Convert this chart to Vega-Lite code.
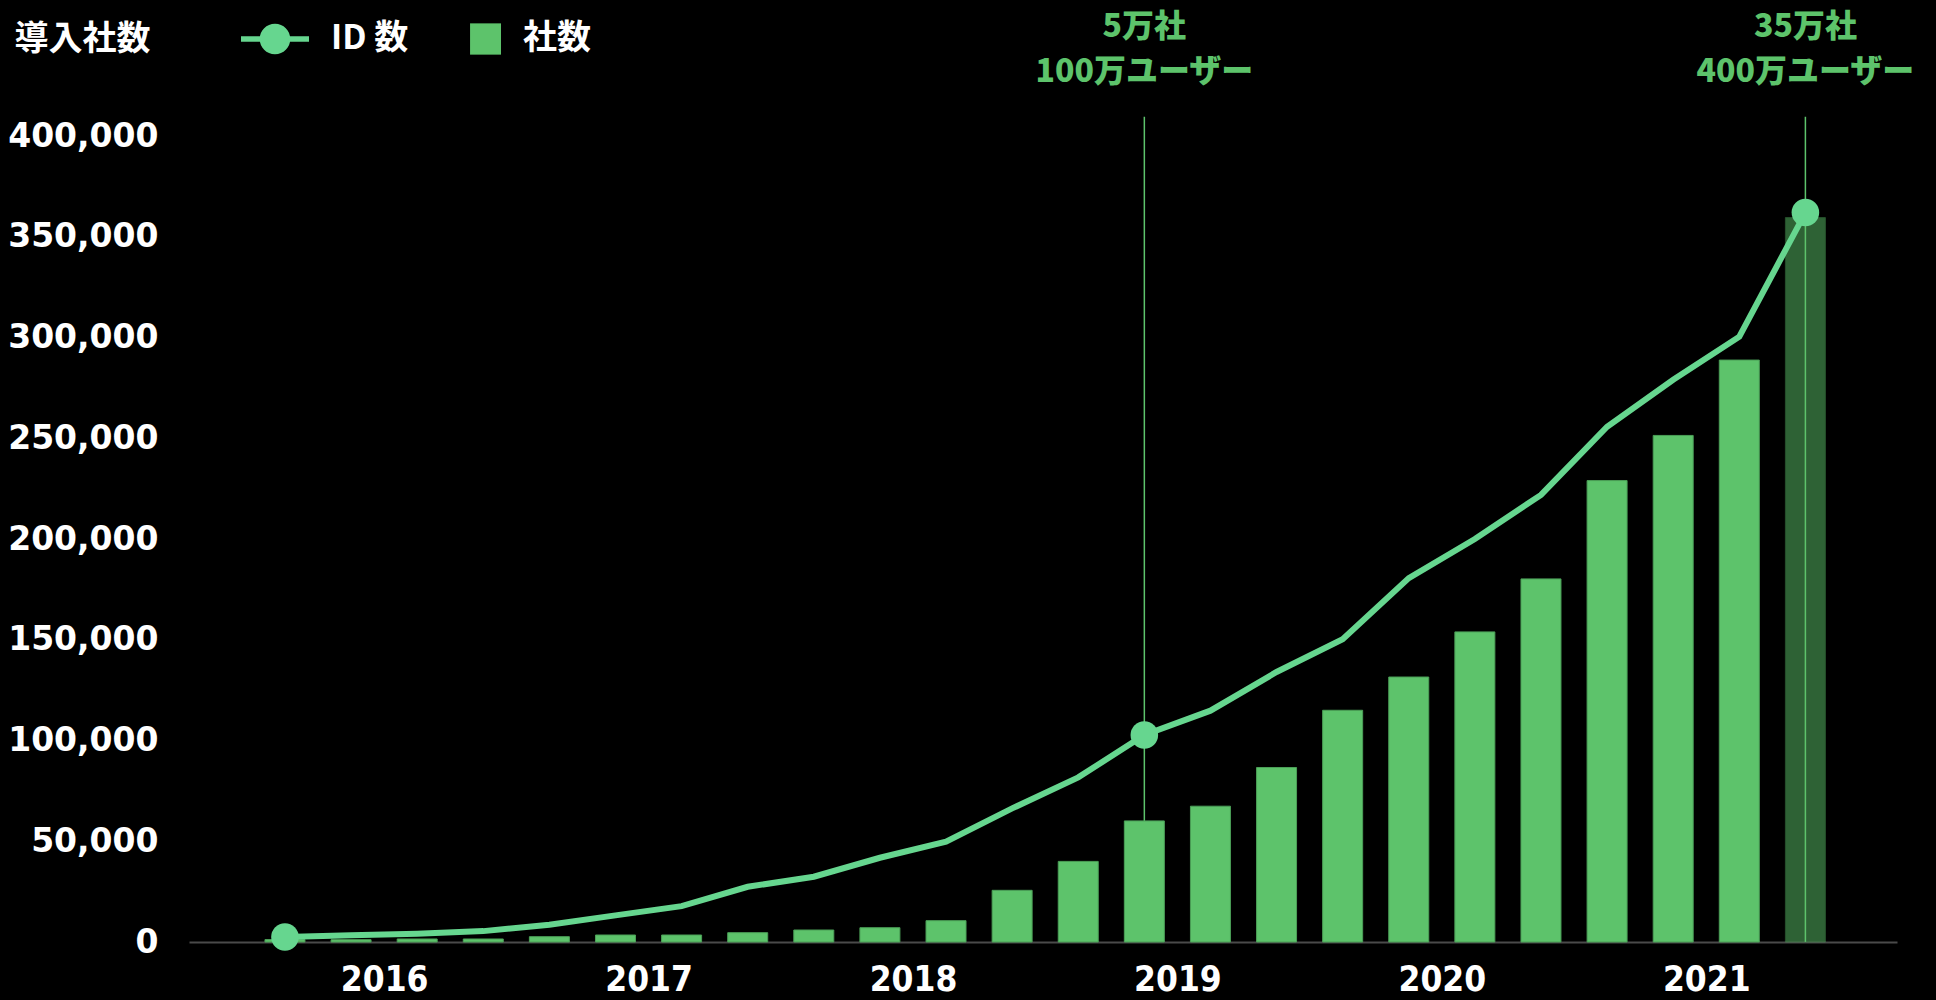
{
  "$schema": "https://vega.github.io/schema/vega-lite/v6.json",
  "width": 1708,
  "height": 806,
  "autosize": {"type": "none"},
  "padding": {"left": 189, "top": 136, "right": 39, "bottom": 58},
  "background": "#000000",
  "config": {
    "view": {"stroke": null},
    "axisY": {
      "domain": false,
      "ticks": false,
      "labelFont": "DejaVu Sans",
      "labelFontSize": 33,
      "labelFontWeight": "bold",
      "labelColor": "#ffffff",
      "labelPadding": 31,
      "gridColor": "#2b2b2b",
      "gridWidth": 1.5,
      "titleFont": "Noto Sans CJK JP",
      "titleFontSize": 34,
      "titleFontWeight": "bold",
      "titleColor": "#ffffff"
    },
    "axisX": {
      "grid": false,
      "ticks": false,
      "domainColor": "#4a4a4a",
      "domainWidth": 2,
      "labelFont": "DejaVu Sans Condensed, Roboto Condensed, Roboto",
      "labelFontSize": 35,
      "labelFontWeight": "bold",
      "labelColor": "#ffffff",
      "labelBaseline": "middle",
      "labelPadding": 37
    }
  },
  "data": {
    "values": [
      {"q": 1, "period": "2016Q1", "ids": 2500, "companies": 1200, "projected": false, "highlight": true},
      {"q": 2, "period": "2016Q2", "ids": 3300, "companies": 1150, "projected": false, "highlight": false},
      {"q": 3, "period": "2016Q3", "ids": 4100, "companies": 1500, "projected": false, "highlight": false},
      {"q": 4, "period": "2016Q4", "ids": 5400, "companies": 1500, "projected": false, "highlight": false},
      {"q": 5, "period": "2017Q1", "ids": 8600, "companies": 2650, "projected": false, "highlight": false},
      {"q": 6, "period": "2017Q2", "ids": 13200, "companies": 3470, "projected": false, "highlight": false},
      {"q": 7, "period": "2017Q3", "ids": 17800, "companies": 3470, "projected": false, "highlight": false},
      {"q": 8, "period": "2017Q4", "ids": 27400, "companies": 4630, "projected": false, "highlight": false},
      {"q": 9, "period": "2018Q1", "ids": 32400, "companies": 5950, "projected": false, "highlight": false},
      {"q": 10, "period": "2018Q2", "ids": 41800, "companies": 7100, "projected": false, "highlight": false},
      {"q": 11, "period": "2018Q3", "ids": 49800, "companies": 10600, "projected": false, "highlight": false},
      {"q": 12, "period": "2018Q4", "ids": 66300, "companies": 25650, "projected": false, "highlight": false},
      {"q": 13, "period": "2019Q1", "ids": 81700, "companies": 40000, "projected": false, "highlight": false},
      {"q": 14, "period": "2019Q2", "ids": 102700, "companies": 60100, "projected": false, "highlight": true},
      {"q": 15, "period": "2019Q3", "ids": 114800, "companies": 67400, "projected": false, "highlight": false},
      {"q": 16, "period": "2019Q4", "ids": 134000, "companies": 86600, "projected": false, "highlight": false},
      {"q": 17, "period": "2020Q1", "ids": 150300, "companies": 115000, "projected": false, "highlight": false},
      {"q": 18, "period": "2020Q2", "ids": 180600, "companies": 131500, "projected": false, "highlight": false},
      {"q": 19, "period": "2020Q3", "ids": 200000, "companies": 153900, "projected": false, "highlight": false},
      {"q": 20, "period": "2020Q4", "ids": 221900, "companies": 180200, "projected": false, "highlight": false},
      {"q": 21, "period": "2021Q1", "ids": 255700, "companies": 229000, "projected": false, "highlight": false},
      {"q": 22, "period": "2021Q2", "ids": 279000, "companies": 251400, "projected": false, "highlight": false},
      {"q": 23, "period": "2021Q3", "ids": 300400, "companies": 288800, "projected": false, "highlight": false},
      {"q": 24, "period": "2021Q4", "ids": 362000, "companies": 359500, "projected": true, "highlight": true}
    ]
  },
  "layer": [
    {
      "data": {"values": [
        {"q": 14, "label": "5万社\n100万ユーザー"},
        {"q": 24, "label": "35万社\n400万ユーザー"}
      ]},
      "mark": {"type": "rule", "color": "#5dc36b", "strokeWidth": 1.5},
      "encoding": {
        "x": {"field": "q", "type": "quantitative"},
        "y": {"datum": 0, "type": "quantitative"},
        "y2": {"datum": 409500}
      }
    },
    {
      "mark": {"type": "bar", "size": 40, "stroke": "#4b9f57", "strokeWidth": 1},
      "encoding": {
        "x": {
          "field": "q",
          "type": "quantitative",
          "scale": {"domain": [-0.376, 25.31], "nice": false, "zero": false},
          "axis": {
            "title": null,
            "values": [2.5, 6.5, 10.5, 14.5, 18.5, 22.5],
            "labelExpr": "['2016','2017','2018','2019','2020','2021'][(datum.value - 2.5) / 4]"
          }
        },
        "y": {
          "field": "companies",
          "type": "quantitative",
          "title": "導入社数",
          "scale": {"domain": [0, 400000], "nice": false},
          "axis": {
            "values": [0, 50000, 100000, 150000, 200000, 250000, 300000, 350000, 400000],
            "format": ",d",
            "titleAngle": 0,
            "titleAlign": "left",
            "titleBaseline": "middle",
            "titleX": -175,
            "titleY": -97
          }
        },
        "color": {
          "datum": "社数",
          "type": "nominal",
          "scale": {"domain": ["ID 数", "社数"], "range": ["#66d68f", "#5dc36b"]},
          "legend": {
            "title": null,
            "orient": "none",
            "legendX": 52,
            "legendY": -131,
            "direction": "horizontal",
            "columns": 2,
            "columnPadding": 24,
            "padding": 0,
            "symbolSize": 4624,
            "symbolStrokeWidth": 0,
            "symbolType": {"expr": "datum.value === 'ID 数' ? 'M-1,-0.08L1,-0.08L1,0.08L-1,0.08Z M-0.45,0A0.45,0.45 0 1 1 0.45,0A0.45,0.45 0 1 1 -0.45,0Z' : 'M0.09,-0.46L1,-0.46L1,0.46L0.09,0.46Z'"},
            "labelOffset": 22,
            "labelFont": "Noto Sans CJK JP",
            "labelFontSize": 34,
            "labelFontWeight": "bold",
            "labelColor": "#ffffff",
            "encode": {
              "symbols": {
                "shape": {"value": {"expr": "datum.value === 'ID 数' ? 'M-1,-0.08L1,-0.08L1,0.08L-1,0.08Z M-0.45,0A0.45,0.45 0 1 1 0.45,0A0.45,0.45 0 1 1 -0.45,0Z' : 'M0.09,-0.46L1,-0.46L1,0.46L0.09,0.46Z'"}},
                "strokeWidth": {"value": 0},
                "opacity": {"value": 1},
                "fillOpacity": {"value": 1}
              }
            }
          }
        },
        "opacity": {
          "condition": {"test": "datum.projected", "value": 0.5},
          "value": 1
        }
      }
    },
    {
      "mark": {"type": "line", "strokeWidth": 6},
      "encoding": {
        "x": {"field": "q", "type": "quantitative"},
        "y": {"field": "ids", "type": "quantitative", "title": "導入社数"},
        "color": {"datum": "ID 数", "type": "nominal"}
      }
    },
    {
      "transform": [{"filter": "datum.highlight"}],
      "mark": {"type": "point", "filled": true, "size": 760, "opacity": 1, "strokeWidth": 0},
      "encoding": {
        "x": {"field": "q", "type": "quantitative"},
        "y": {"field": "ids", "type": "quantitative", "title": "導入社数"},
        "color": {"datum": "ID 数", "type": "nominal"}
      }
    },
    {
      "data": {"values": [
        {"q": 14, "label": "5万社\n100万ユーザー"},
        {"q": 24, "label": "35万社\n400万ユーザー"}
      ]},
      "mark": {
        "type": "text",
        "align": "center",
        "baseline": "top",
        "lineBreak": "\n",
        "lineHeight": 45,
        "font": "Noto Sans CJK JP",
        "fontSize": 32,
        "fontWeight": 900,
        "color": "#5dc36b"
      },
      "encoding": {
        "x": {"field": "q", "type": "quantitative"},
        "y": {"datum": 461700, "type": "quantitative"},
        "text": {"field": "label"}
      }
    }
  ]
}
